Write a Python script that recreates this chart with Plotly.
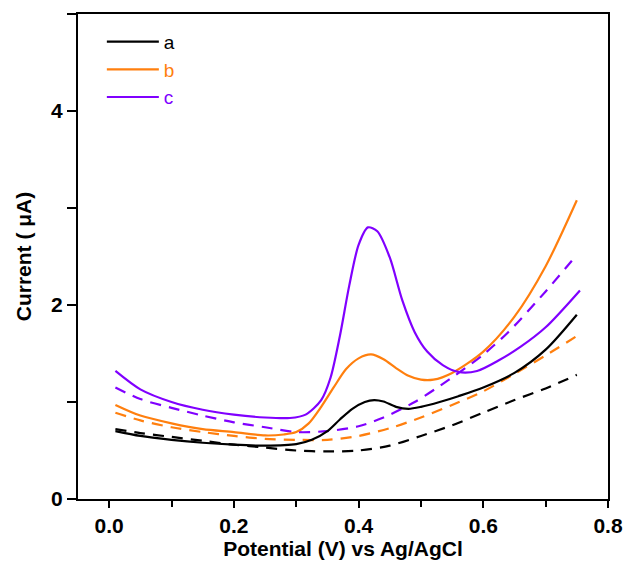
import plotly.graph_objects as go

# ---- data ----
a_x = [0.01, 0.05, 0.1, 0.15, 0.2, 0.25, 0.3, 0.325, 0.35, 0.37, 0.39, 0.41, 0.425, 0.44, 0.46, 0.48, 0.5, 0.53, 0.56, 0.6, 0.65, 0.7, 0.75]
a_y = [0.70, 0.65, 0.61, 0.58, 0.56, 0.55, 0.565, 0.61, 0.70, 0.82, 0.93, 1.00, 1.02, 1.005, 0.95, 0.93, 0.95, 1.00, 1.06, 1.15, 1.30, 1.54, 1.90]

a0_x = [0.01, 0.05, 0.1, 0.15, 0.2, 0.25, 0.3, 0.35, 0.4, 0.45, 0.5, 0.55, 0.6, 0.65, 0.7, 0.75]
a0_y = [0.72, 0.68, 0.64, 0.60, 0.56, 0.53, 0.50, 0.49, 0.50, 0.55, 0.65, 0.76, 0.89, 1.02, 1.14, 1.28]

b_x = [0.01, 0.05, 0.1, 0.15, 0.2, 0.25, 0.28, 0.3, 0.32, 0.34, 0.36, 0.38, 0.4, 0.42, 0.44, 0.46, 0.48, 0.5, 0.52, 0.55, 0.6, 0.65, 0.7, 0.75]
b_y = [0.97, 0.86, 0.78, 0.72, 0.69, 0.655, 0.665, 0.69, 0.78, 0.95, 1.15, 1.34, 1.45, 1.49, 1.44, 1.35, 1.27, 1.23, 1.23, 1.30, 1.52, 1.88, 2.40, 3.08]

b0_x = [0.01, 0.05, 0.1, 0.15, 0.2, 0.25, 0.3, 0.35, 0.4, 0.45, 0.5, 0.55, 0.6, 0.65, 0.7, 0.75]
b0_y = [0.89, 0.81, 0.74, 0.69, 0.65, 0.62, 0.61, 0.61, 0.65, 0.73, 0.84, 0.97, 1.11, 1.29, 1.48, 1.68]

c_x = [0.01, 0.05, 0.1, 0.15, 0.2, 0.25, 0.29, 0.315, 0.34, 0.355, 0.37, 0.385, 0.4, 0.415, 0.43, 0.45, 0.47, 0.49, 0.51, 0.535, 0.56, 0.59, 0.625, 0.66, 0.7, 0.755]
c_y = [1.32, 1.13, 1.00, 0.92, 0.87, 0.84, 0.835, 0.87, 1.02, 1.25, 1.68, 2.20, 2.62, 2.80, 2.76, 2.49, 2.05, 1.72, 1.52, 1.38, 1.31, 1.32, 1.43, 1.57, 1.77, 2.15]

c0_x = [0.01, 0.05, 0.1, 0.15, 0.2, 0.25, 0.3, 0.35, 0.4, 0.44, 0.49, 0.545, 0.6, 0.64, 0.7, 0.745]
c0_y = [1.15, 1.03, 0.94, 0.86, 0.79, 0.74, 0.69, 0.70, 0.75, 0.84, 1.00, 1.23, 1.49, 1.72, 2.14, 2.48]

names = ["a", "b", "c"]
colors = ["#000000", "#FF7F0E", "#8000FF"]
x_ticks = [0.0, 0.2, 0.4, 0.6, 0.8]
x_ticklabels = ["0.0", "0.2", "0.4", "0.6", "0.8"]

fig = go.Figure()
solid = [(a_x, a_y), (b_x, b_y), (c_x, c_y)]
dashed = [(a0_x, a0_y), (b0_x, b0_y), (c0_x, c0_y)]
for (x, y), col in zip(dashed, colors):
    fig.add_trace(go.Scatter(x=x, y=y, mode="lines", showlegend=False, hoverinfo="skip",
                             line=dict(color=col, width=2.2, dash="11px,8px", shape="spline", smoothing=0.8)))
for (x, y), col, n in zip(solid, colors, names):
    fig.add_trace(go.Scatter(x=x, y=y, mode="lines", hoverinfo="skip",
                             name=f"<span style='color:{col}'>{n}</span>",
                             line=dict(color=col, width=2.2, shape="spline", smoothing=0.8)))

axis_font = dict(family="Liberation Sans, Arial", size=21, color="#000", weight="bold")
fig.update_layout(
    width=624, height=564,
    margin=dict(l=78, r=16, t=14, b=65),
    paper_bgcolor="white", plot_bgcolor="white",
    font=dict(family="Liberation Sans, Arial", color="#000"),
    showlegend=True,
    legend=dict(x=0.045, y=0.982, xanchor="left", yanchor="top",
                font=dict(size=19, family="Liberation Sans, Arial"),
                bgcolor="rgba(0,0,0,0)", itemwidth=52, tracegroupgap=0),
    xaxis=dict(range=[-0.05, 0.8], tickvals=x_ticks, ticktext=x_ticklabels,
               ticks="outside", ticklen=7, tickwidth=2, tickcolor="#000",
               minor=dict(tick0=0.1, dtick=0.2, ticks="outside", ticklen=6, tickwidth=2, tickcolor="#000"),
               showline=True, linewidth=2, linecolor="#000", mirror=True, automargin=False,
               showgrid=False, zeroline=False, tickfont=axis_font,
               title=dict(text="Potential (V) vs Ag/AgCl", font=axis_font, standoff=4)),
    yaxis=dict(range=[0, 5], tick0=0, dtick=2,
               ticks="outside", ticklen=9, tickwidth=2, tickcolor="#000",
               minor=dict(tick0=1, dtick=1, ticks="outside", ticklen=9, tickwidth=2, tickcolor="#000"),
               showline=True, linewidth=2, linecolor="#000", mirror=True, automargin=False,
               showgrid=False, zeroline=False, tickfont=axis_font,
               title=dict(text="Current ( μA)", font=axis_font, standoff=14)),
)

fig.write_html("out.html", config={"displayModeBar": False},
               post_script="document.body.style.margin='0';document.body.style.overflow='hidden';")
